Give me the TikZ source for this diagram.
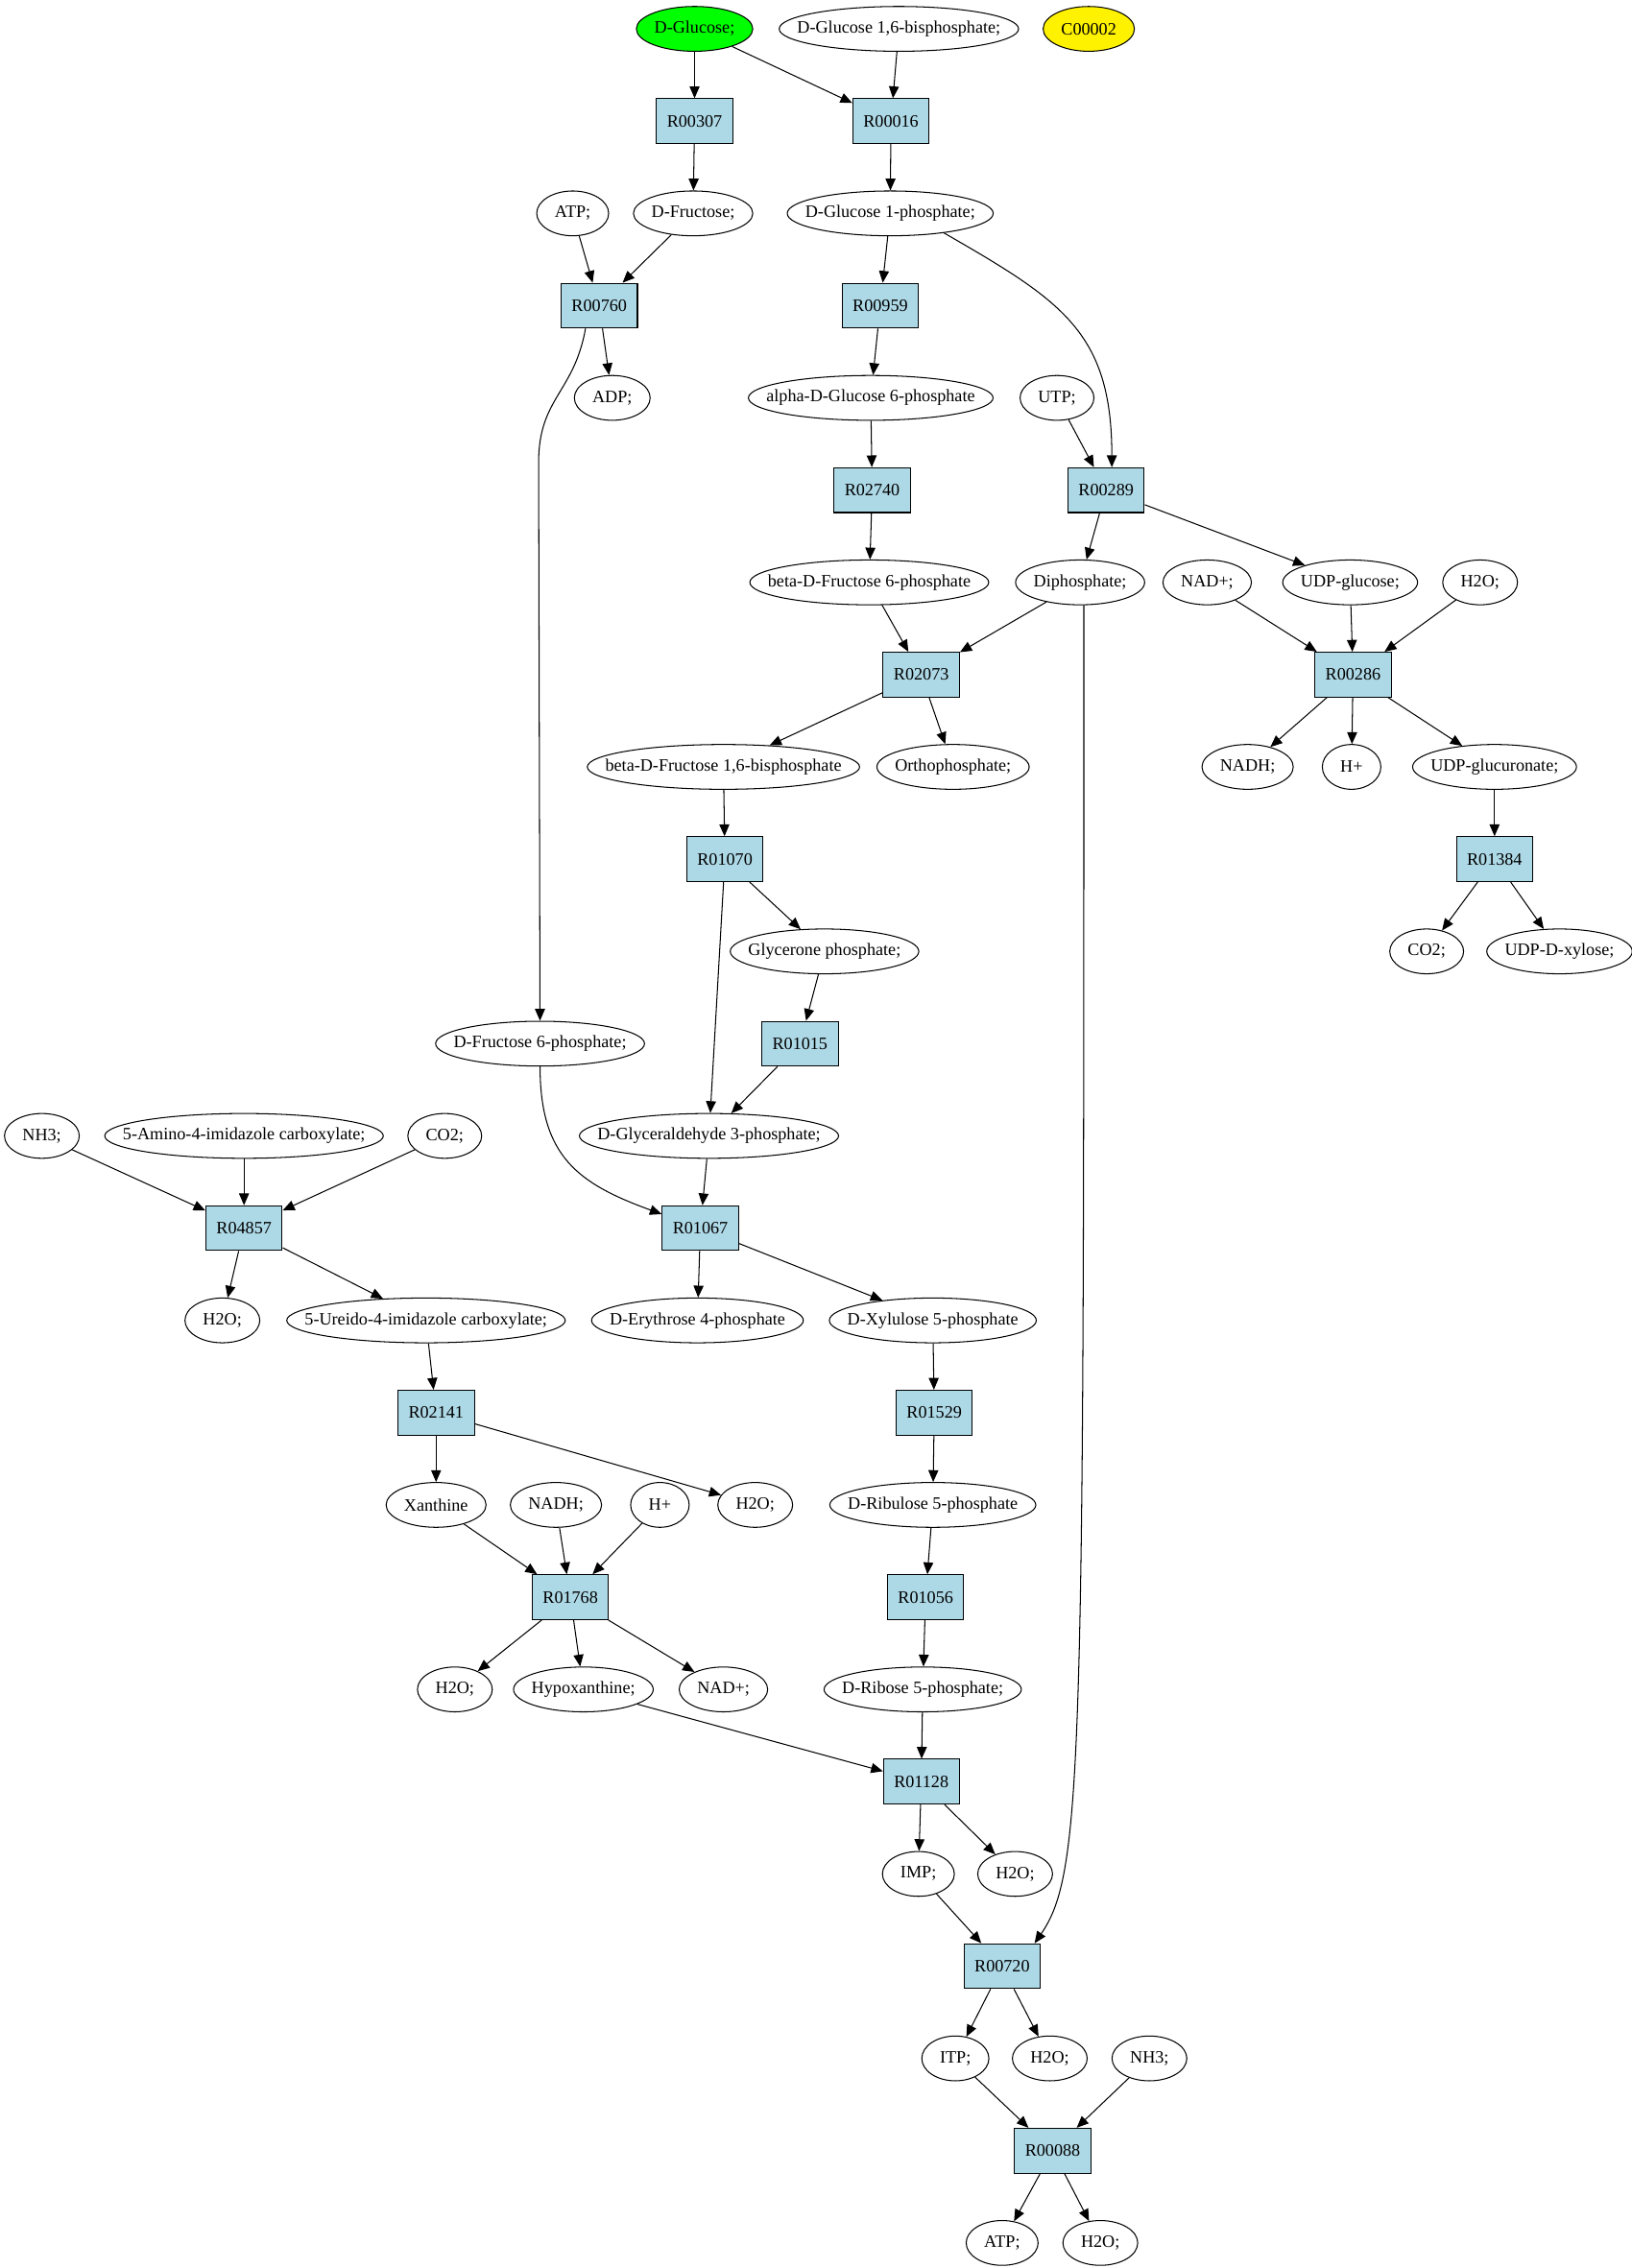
\documentclass[tikz,border=0pt]{standalone}
\usepackage{fontspec}
\setmainfont{Liberation Serif}
\usetikzlibrary{shapes.geometric,arrows.meta}
\definecolor{rxnblue}{RGB}{173,216,230}
\newcommand{\metfont}{\fontsize{14}{16}\selectfont}
\newdimen\metw
\newbox\metbx
% metabolite: ellipse as wide as its name plus a margin
\newcommand{\metname}[1]{\setbox\metbx=\hbox{#1}\global\metw=\wd\metbx
  \global\advance\metw by 29pt\box\metbx}
\newcommand{\met}[4][]{\node[met, #1] (#2) at (#3) {\metname{#4}};}

\begin{document}
\begin{tikzpicture}[x=1.16pt, y=74.124pt, line width=0.8pt, >={Triangle[length=9.5pt,width=8pt]},
    met/.style = {draw, ellipse, inner xsep=-30pt, inner ysep=0pt, minimum height=36pt, minimum width=\metw, font=\metfont},
    rxn/.style = {draw, rectangle, fill=rxnblue, minimum width=54pt, minimum height=36pt, inner xsep=8.5pt, inner ysep=0pt, font=\metfont}]
    \useasboundingbox (0,0.313) rectangle (1130,-24.272);
    % row 0-5
    \met[fill=green]{glc}{481,0}{D-Glucose;}
    \met{g16bp}{622.5,0}{D-Glucose 1,6-bisphosphate;}
    \met[fill=yellow]{c00002}{754,0}{C00002}
    \node[rxn] (r00307) at (481,-1) {R00307};
    \node[rxn] (r00016) at (617,-1) {R00016};
    \met{atp1}{396.6,-2}{ATP;}
    \met{fru}{480,-2}{D-Fructose;}
    \met{g1p}{616.5,-2}{D-Glucose 1-phosphate;}
    \node[rxn] (r00760) at (415,-3) {R00760};
    \node[rxn] (r00959) at (609.6,-3) {R00959};
    \met{adp}{424,-4}{ADP;}
    \met{ag6p}{603,-4}{alpha-D-Glucose 6-phosphate}
    \met{utp}{732,-4}{UTP;}
    \node[rxn] (r02740) at (604,-5) {R02740};
    \node[rxn] (r00289) at (766,-5) {R00289};
    % row 6-11
    \met{bf6p}{602,-6}{beta-D-Fructose 6-phosphate}
    \met{diph}{748,-6}{Diphosphate;}
    \met{nad1}{836,-6}{NAD+;}
    \met{udpg}{935,-6}{UDP-glucose;}
    \met{h2o1}{1025,-6}{H2O;}
    \node[rxn] (r02073) at (638,-7) {R02073};
    \node[rxn] (r00286) at (937,-7) {R00286};
    \met{bf16bp}{501,-8}{beta-D-Fructose 1,6-bisphosphate}
    \met{pi}{660,-8}{Orthophosphate;}
    \met{nadh1}{864,-8}{NADH;}
    \met{hplus1}{936,-8}{H+}
    \met{udpgl}{1035,-8}{UDP-glucuronate;}
    \node[rxn] (r01070) at (502,-9) {R01070};
    \node[rxn] (r01384) at (1035,-9) {R01384};
    \met{dhap}{571,-10}{Glycerone phosphate;}
    \met{co2a}{988,-10}{CO2;}
    \met{udpx}{1080,-10}{UDP-D-xylose;}
    \met{f6p}{374,-11}{D-Fructose 6-phosphate;}
    \node[rxn] (r01015) at (554,-11) {R01015};
    % row 12-17
    \met{nh3a}{29,-12}{NH3;}
    \met{air}{169,-12}{5-Amino-4-imidazole carboxylate;}
    \met{co2b}{308,-12}{CO2;}
    \met{g3p}{491,-12}{D-Glyceraldehyde 3-phosphate;}
    \node[rxn] (r04857) at (169,-13) {R04857};
    \node[rxn] (r01067) at (485,-13) {R01067};
    \met{h2o2}{154,-14}{H2O;}
    \met{ureido}{295,-14}{5-Ureido-4-imidazole carboxylate;}
    \met{e4p}{483,-14}{D-Erythrose 4-phosphate}
    \met{xu5p}{646,-14}{D-Xylulose 5-phosphate}
    \node[rxn] (r02141) at (302,-15) {R02141};
    \node[rxn] (r01529) at (647,-15) {R01529};
    \met{xan}{302,-16}{Xanthine}
    \met{nadh2}{385,-16}{NADH;}
    \met{hplus2}{457,-16}{H+}
    \met{h2o3}{523,-16}{H2O;}
    \met{ru5p}{646,-16}{D-Ribulose 5-phosphate}
    \node[rxn] (r01768) at (395,-17) {R01768};
    \node[rxn] (r01056) at (641,-17) {R01056};
    % row 18-24
    \met{h2o4}{315,-18}{H2O;}
    \met{hyp}{404,-18}{Hypoxanthine;}
    \met{nad2}{501,-18}{NAD+;}
    \met{r5p}{639,-18}{D-Ribose 5-phosphate;}
    \node[rxn] (r01128) at (638,-19) {R01128};
    \met{imp}{636,-20}{IMP;}
    \met{h2o5}{703,-20}{H2O;}
    \node[rxn] (r00720) at (694,-21) {R00720};
    \met{itp}{661.6,-22}{ITP;}
    \met{h2o6}{727,-22}{H2O;}
    \met{nh3b}{796,-22}{NH3;}
    \node[rxn] (r00088) at (729,-23) {R00088};
    \met{atp2}{694,-24}{ATP;}
    \met{h2o7}{762,-24}{H2O;}
    % edges
    \draw[->] (glc) -- (r00307);
    \draw[->] (glc) -- (r00016);
    \draw[->] (g16bp) -- (r00016);
    \draw[->] (r00307) -- (fru);
    \draw[->] (r00016) -- (g1p);
    \draw[->] (atp1) -- (r00760);
    \draw[->] (fru) -- (r00760);
    \draw[->] (g1p) -- (r00959);
    \draw[->] (g1p.-20) to[out=-30, in=90, looseness=1.2] ([xshift=4.6pt]r00289.north);
    \draw[->] (r00760) -- (adp);
    \draw[->] (r00760.-121) .. controls +(-8,-0.7) and +(0,0.7) .. (373,-4.7) -- (f6p);
    \draw[->] (r00959) -- (ag6p);
    \draw[->] (ag6p) -- (r02740);
    \draw[->] (utp) -- (r00289);
    \draw[->] (r02740) -- (bf6p);
    \draw[->] (r00289) -- (diph);
    \draw[->] (r00289) -- (udpg);
    \draw[->] (bf6p) -- (r02073);
    \draw[->] (diph) -- (r02073);
    \draw[->] ([xshift=3pt]diph.south) .. controls +(0,-12.5) and +(34,0.77) .. ([xshift=-5pt]r00720.north east);
    \draw[->] (nad1) -- (r00286);
    \draw[->] (udpg) -- (r00286);
    \draw[->] (h2o1) -- (r00286);
    \draw[->] (r02073) -- (bf16bp);
    \draw[->] (r02073) -- (pi);
    \draw[->] (r00286) -- (nadh1);
    \draw[->] (r00286) -- (hplus1);
    \draw[->] (r00286) -- (udpgl);
    \draw[->] (bf16bp) -- (r01070);
    \draw[->] (udpgl) -- (r01384);
    \draw[->] (r01070) -- (dhap);
    \draw[->] (r01070) -- (g3p);
    \draw[->] (r01384) -- (co2a);
    \draw[->] (r01384) -- (udpx);
    \draw[->] (dhap) -- (r01015);
    \draw[->] (r01015) -- (g3p);
    \draw[->] (f6p.south) to[out=-90, in=160, looseness=1.2] (r01067.160);
    \draw[->] (nh3a) -- (r04857);
    \draw[->] (air) -- (r04857);
    \draw[->] (co2b) -- (r04857);
    \draw[->] (g3p) -- (r01067);
    \draw[->] (r04857) -- (h2o2);
    \draw[->] (r04857) -- (ureido);
    \draw[->] (r01067) -- (e4p);
    \draw[->] (r01067) -- (xu5p);
    \draw[->] (ureido) -- (r02141);
    \draw[->] (xu5p) -- (r01529);
    \draw[->] (r02141) -- (xan);
    \draw[->] (r02141) -- (h2o3);
    \draw[->] (r01529) -- (ru5p);
    \draw[->] (xan) -- (r01768);
    \draw[->] (nadh2) -- (r01768);
    \draw[->] (hplus2) -- (r01768);
    \draw[->] (ru5p) -- (r01056);
    \draw[->] (r01768) -- (h2o4);
    \draw[->] (r01768) -- (hyp);
    \draw[->] (r01768) -- (nad2);
    \draw[->] (r01056) -- (r5p);
    \draw[->] (hyp) -- (r01128);
    \draw[->] (r5p) -- (r01128);
    \draw[->] (r01128) -- (imp);
    \draw[->] (r01128) -- (h2o5);
    \draw[->] (imp) -- (r00720);
    \draw[->] (r00720) -- (itp);
    \draw[->] (r00720) -- (h2o6);
    \draw[->] (itp) -- (r00088);
    \draw[->] (nh3b) -- (r00088);
    \draw[->] (r00088) -- (atp2);
    \draw[->] (r00088) -- (h2o7);
\end{tikzpicture}
\end{document}
